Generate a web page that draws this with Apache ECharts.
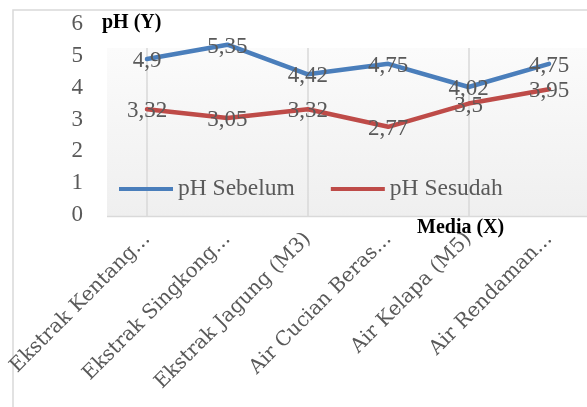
<!DOCTYPE html>
<html><head><meta charset="utf-8">
<script src="https://cdn.jsdelivr.net/npm/echarts@6/dist/echarts.min.js"></script>
<style>html,body{margin:0;padding:0;background:#fff}#c{width:587px;height:407px}</style>
</head><body><div id="c"></div>
<script>
const categories = ["Ekstrak Kentang...", "Ekstrak Singkong...", "Ekstrak Jagung (M3)", "Air Cucian Beras...", "Air Kelapa (M5)", "Air Rendaman..."];
const phSebelum = [4.9, 5.35, 4.42, 4.75, 4.02, 4.75];
const phSesudah = [3.32, 3.05, 3.32, 2.77, 3.5, 3.95];
const yTicks = [0, 1, 2, 3, 4, 5, 6];

const serif = "Liberation Serif";
const gray = "#595959";
const fmt = p => String(p.value).replace('.', ',');

const chart = echarts.init(document.getElementById('c'), null, {renderer: 'canvas'});
chart.setOption({
  animation: false,
  backgroundColor: '#fff',
  graphic: [
    {type: 'rect', shape: {x: 13, y: 10, width: 620, height: 440}, style: {fill: 'none', stroke: '#d9d9d9', lineWidth: 1.5}, z: -10},
    {type: 'rect', shape: {x: 107, y: 48, width: 485, height: 168},
      style: {fill: new echarts.graphic.LinearGradient(0, 0, 0, 1, [{offset: 0, color: '#fbfbfb'}, {offset: 1, color: '#efefef'}])}, z: -5},
    {type: 'line', shape: {x1: 107, y1: 216.5, x2: 592, y2: 216.5}, style: {stroke: '#d9d9d9', lineWidth: 1.5}, z: -4},
    {type: 'text', left: 102, top: 13, style: {text: 'pH (Y)', font: 'bold 20px "Liberation Serif"', fill: '#000'}},
    {type: 'text', left: 417, top: 218, style: {text: 'Media (X)', font: 'bold 20px "Liberation Serif"', fill: '#000'}}
  ],
  legend: {
    left: 119, top: 177, padding: 0, icon: 'rect', itemWidth: 54, itemHeight: 4, itemGap: 36,
    textStyle: {fontFamily: serif, fontSize: 23.5, color: gray, padding: [0, 0, 0, 0]},
    data: ['pH Sebelum', 'pH Sesudah']
  },
  grid: [
    {left: 147, right: 38, top: 24, bottom: 192, containLabel: false, outerBoundsMode: 'none'},
    {left: 147, right: 38, top: 48, bottom: 191, containLabel: false, outerBoundsMode: 'none'},
    {left: 147, right: 38, top: 48, bottom: 191, containLabel: false, outerBoundsMode: 'none'}
  ],
  xAxis: [
    {gridIndex: 0, type: 'category', data: categories, boundaryGap: false, show: false},
    {gridIndex: 1, type: 'category', data: categories, boundaryGap: false,
      axisLine: {show: false}, axisTick: {show: false}, axisLabel: {show: false},
      splitLine: {show: true, lineStyle: {color: '#d9d9d9', width: 1.5}}},
    {gridIndex: 2, type: 'category', data: categories, boundaryGap: false,
      axisLine: {show: false}, axisTick: {show: false}, splitLine: {show: false},
      axisLabel: {rotate: 45, margin: 20, interval: 0, hideOverlap: false, fontFamily: 'DejaVu Serif', fontSize: 20, color: gray}}
  ],
  yAxis: [
    {gridIndex: 0, type: 'value', min: yTicks[0], max: yTicks[yTicks.length - 1], interval: 1,
      axisLine: {show: false}, axisTick: {show: false}, splitLine: {show: false},
      axisLabel: {margin: 64, fontFamily: serif, fontSize: 23, color: gray}},
    {gridIndex: 1, type: 'value', show: false, splitLine: {show: false}},
    {gridIndex: 2, type: 'value', show: false, splitLine: {show: false}}
  ],
  series: [
    {name: 'pH Sebelum', type: 'line', xAxisIndex: 0, yAxisIndex: 0, data: phSebelum,
      symbol: 'circle', symbolSize: 0, showSymbol: true, color: '#4a7ebb',
      lineStyle: {width: 4.5, color: '#4a7ebb', cap: 'round', join: 'round'},
      label: {show: true, position: 'inside', offset: [0, 2], formatter: fmt, fontFamily: serif, fontSize: 23, color: gray}},
    {name: 'pH Sesudah', type: 'line', xAxisIndex: 0, yAxisIndex: 0, data: phSesudah,
      symbol: 'circle', symbolSize: 0, showSymbol: true, color: '#be4b48',
      lineStyle: {width: 4.5, color: '#be4b48', cap: 'round', join: 'round'},
      label: {show: true, position: 'inside', offset: [0, 2], formatter: fmt, fontFamily: serif, fontSize: 23, color: gray}}
  ]
});
</script></body></html>
